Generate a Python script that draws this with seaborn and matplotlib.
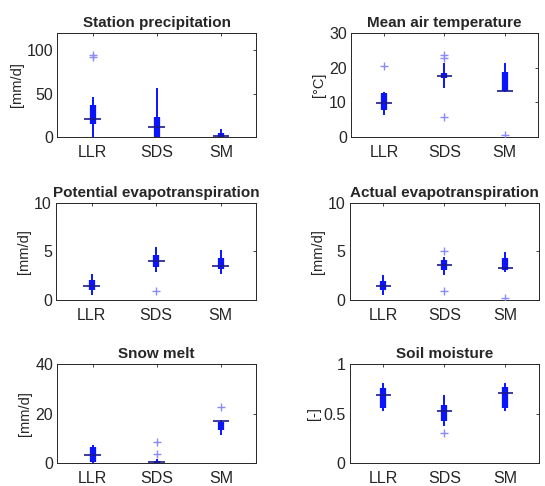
import numpy as np
import pandas as pd
import seaborn as sns
import matplotlib.pyplot as plt
from matplotlib import font_manager

sites = ["LLR", "SDS", "SM"]

titles = ["Station precipitation", "Mean air temperature",
          "Potential evapotranspiration", "Actual evapotranspiration",
          "Snow melt", "Soil moisture"]
ylabels = ["[mm/d]", "[\u00b0C]", "[mm/d]", "[mm/d]", "[mm/d]", "[-]"]
ylims = [(0, 120), (0, 30), (0, 10), (0, 10), (0, 40), (0, 1)]
yticks = [[0, 50, 100], [0, 10, 20, 30], [0, 5, 10], [0, 5, 10], [0, 20, 40], [0, 0.5, 1]]

# per panel: values for LLR, SDS, SM
whisk_lo = [[0, 0, 0], [6.3, 14.2, 13.1], [0.5, 2.9, 2.7], [0.5, 2.6, 2.9], [0, 0, 11.3], [0.53, 0.37, 0.53]]
q1 = [[15, 0, 0], [7.7, 17.0, 13.4], [1.0, 3.4, 3.2], [1.0, 3.1, 3.1], [0.4, 0, 13.3], [0.56, 0.43, 0.56]]
median = [[20.5, 11.6, 1.5], [9.9, 17.6, 13.3], [1.44, 4.0, 3.5], [1.44, 3.6, 3.25], [3.1, 0.4, 16.9], [0.69, 0.53, 0.71]]
q3 = [[37, 23, 4.6], [12.6, 18.4, 18.9], [2.05, 4.6, 4.3], [1.95, 4.1, 4.3], [6.5, 1.0, 16.7], [0.76, 0.59, 0.77]]
whisk_hi = [[46, 57, 9.7], [13.1, 21.3, 21.3], [2.7, 5.4, 5.1], [2.6, 4.45, 4.95], [7.2, 1.8, 17.4], [0.81, 0.69, 0.81]]

# outliers: (panel, site, value)
out_panel = [0, 0, 1, 1, 1, 1, 1, 2, 3, 3, 3, 4, 4, 4, 5]
out_site = ["LLR", "LLR", "LLR", "SDS", "SDS", "SDS", "SM", "SDS", "SDS", "SDS", "SM", "SDS", "SDS", "SM", "SDS"]
out_value = [92, 95, 20.5, 23.7, 22.8, 5.8, 0.5, 0.9, 5.0, 0.9, 0.2, 8.5, 3.8, 22.5, 0.3]

sns.set_theme(style="white")
names = {f.name for f in font_manager.fontManager.ttflist}
fam = [f for f in ["Arial", "Liberation Sans"] if f in names] + ["DejaVu Sans"]
plt.rcParams["font.family"] = fam

blue = "#0a14ff"
out_col = "#8a8aff"

fig = plt.figure(figsize=(5.45, 4.86), dpi=100)
boxes = [
    [0.105, 0.718, 0.365, 0.214], [0.644, 0.718, 0.343, 0.214],
    [0.103, 0.383, 0.367, 0.200], [0.642, 0.383, 0.347, 0.200],
    [0.105, 0.047, 0.365, 0.204], [0.642, 0.047, 0.347, 0.204],
]

outliers = pd.DataFrame({"panel": out_panel, "site": out_site, "value": out_value})
xpos = {s: i + 1 for i, s in enumerate(sites)}
outliers["x"] = outliers["site"].map(xpos)

for i in range(6):
    ax = fig.add_axes(boxes[i])
    stats = pd.DataFrame({"x": [1, 2, 3], "lo": whisk_lo[i], "q1": q1[i], "med": median[i],
                          "q3": q3[i], "hi": whisk_hi[i]})
    ax.vlines(stats["x"], stats["lo"], stats["hi"], color=blue, lw=1.4, zorder=2)
    ax.vlines(stats["x"], stats["q1"], stats["q3"], color=blue, lw=4.5, zorder=3)
    ax.hlines(stats["med"], stats["x"] - 0.13, stats["x"] + 0.13, color="#1a1a8c", lw=1.2, zorder=4)
    sub = outliers[outliers["panel"] == i]
    if len(sub):
        sns.scatterplot(data=sub, x="x", y="value", marker="+", color=out_col, s=32,
                        linewidth=1.0, ax=ax, zorder=5, legend=False)
    ax.set_xlim(0.45, 3.55)
    ax.set_ylim(*ylims[i])
    ax.set_yticks(yticks[i])
    ax.set_yticklabels([f"{t:g}" for t in yticks[i]])
    ax.set_xticks([1, 2, 3])
    ax.set_xticklabels(sites)
    ax.set_xlabel("")
    ax.set_ylabel(ylabels[i], fontsize=10.5, labelpad=2)
    ax.set_title(titles[i], fontsize=11, fontweight="bold", pad=4)
    ax.tick_params(direction="in", length=2.5, width=0.6, top=True, right=True,
                   labelsize=11.5, pad=3, colors="#262626")
    ax.tick_params(axis="x", pad=6)
    for sp in ax.spines.values():
        sp.set_color("#262626")
        sp.set_linewidth(0.7)

fig.savefig("out.png", dpi=100)
